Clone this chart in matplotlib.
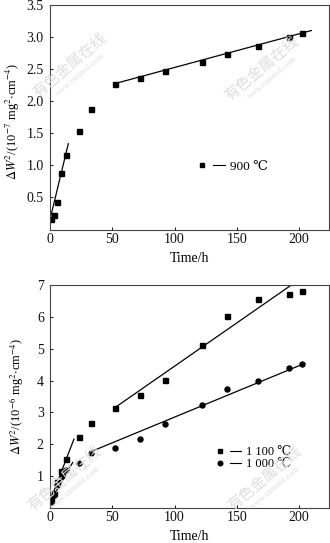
import numpy as np
import matplotlib
matplotlib.use("Agg")
import matplotlib.pyplot as plt
from matplotlib.lines import Line2D
from matplotlib.legend_handler import HandlerTuple

plt.rcParams['font.family'] = ['Liberation Serif', 'DejaVu Serif']
plt.rcParams['mathtext.fontset'] = 'stix'
plt.rcParams['font.size'] = 7.5

# 900 C oxidation data (upper panel)
t_900 = [1, 3, 6, 9, 13, 23, 33, 52, 72, 92, 122, 142, 167, 192, 202]
w_900 = [0.166, 0.233, 0.43, 0.874, 1.16, 1.526, 1.874, 2.267, 2.36, 2.464,
         2.613, 2.728, 2.857, 2.992, 3.059]
# fitted lines (end points)
fit900_early_t = [0, 14.7]
fit900_early_w = [0.155, 1.335]
fit900_late_t = [51.6, 209.8]
fit900_late_w = [2.267, 3.095]

# 1100 C and 1000 C data (lower panel)
t_1100 = [1, 3, 6, 9, 13, 23, 33, 52, 72, 92, 122, 142, 167, 192, 202]
w_1100 = [0.24, 0.47, 0.81, 1.16, 1.55, 2.22, 2.66, 3.15, 3.54, 4.02,
          5.13, 6.03, 6.55, 6.72, 6.80]
t_1000 = [1, 3, 6, 10, 13, 23, 33, 52, 72, 92, 122, 142, 167, 192, 202]
w_1000 = [0.2, 0.42, 0.72, 1.0, 1.2, 1.41, 1.74, 1.88, 2.16, 2.64,
          3.24, 3.72, 3.99, 4.41, 4.52]
fit1100_early_t = [0, 19.2]
fit1100_early_w = [0.21, 2.16]
fit1100_late_t = [52.1, 193.8]
fit1100_late_w = [3.15, 7.0]
fit1000_early_t = [0, 18.2]
fit1000_early_w = [0.18, 1.43]
fit1000_late_t = [32.9, 204.5]
fit1000_late_w = [1.77, 4.54]

x_ticks = [0, 50, 100, 150, 200]
top_yticks = [0.5, 1.0, 1.5, 2.0, 2.5, 3.0, 3.5]
bot_yticks = [1, 2, 3, 4, 5, 6, 7]


def style_axis(ax):
    for s in ax.spines.values():
        s.set_linewidth(0.8)
        s.set_color('#444444')
    ax.tick_params(direction='in', length=2.5, width=0.7, labelsize=10,
                   colors='#111111')
    ax.tick_params(axis='x', pad=2.5)
    ax.tick_params(axis='y', pad=4.5)


def legend_handle(marker):
    m = Line2D([], [], ls='none', marker=marker, color='black', ms=3.3)
    ln = Line2D([], [], color='black', lw=0.8)
    return (m, ln)


fig = plt.figure(figsize=(3.3, 5.43), dpi=100)
W, H = 330.0, 543.0

# ---- upper panel
ax1 = fig.add_axes([50 / W, 1 - 229.5 / H, 279 / W, 225 / H])
ax1.plot(t_900, w_900, ls='none', marker='s', ms=3.6, color='black')
ax1.plot(fit900_early_t, fit900_early_w, color='black', lw=0.9)
ax1.plot(fit900_late_t, fit900_late_w, color='black', lw=0.9)
ax1.set_xlim(0, 224)
ax1.set_ylim(0, 3.5)
ax1.set_xticks(x_ticks)
ax1.set_yticks(top_yticks)
ax1.set_yticklabels(['%.1f' % v for v in top_yticks])
style_axis(ax1)
ax1.set_xlabel('Time/h', fontsize=10)
ax1.xaxis.set_label_coords(0.5, -0.1)
ax1.set_ylabel(r'$\Delta W^2$/(10$^{-7}$ mg$^2$$\cdot$cm$^{-4}$)', fontsize=9)
ax1.yaxis.set_label_coords(-0.102, 0.48)
ax1.legend([legend_handle('s')], ['900 \u2103'], frameon=False,
           handler_map={tuple: HandlerTuple(ndivide=None, pad=0.3)},
           handlelength=2.2, handletextpad=0.4, fontsize=9.5,
           loc='center left', bbox_to_anchor=(0.5, 0.28), borderpad=0)

# ---- lower panel
ax2 = fig.add_axes([50 / W, 1 - 508 / H, 279 / W, 223 / H])
ax2.plot(t_1100, w_1100, ls='none', marker='s', ms=3.6, color='black')
ax2.plot(t_1000, w_1000, ls='none', marker='o', ms=3.6, color='black')
ax2.plot(fit1100_early_t, fit1100_early_w, color='black', lw=0.9)
ax2.plot(fit1100_late_t, fit1100_late_w, color='black', lw=0.9)
ax2.plot(fit1000_early_t, fit1000_early_w, color='black', lw=0.9)
ax2.plot(fit1000_late_t, fit1000_late_w, color='black', lw=0.9)
ax2.set_xlim(0, 224)
ax2.set_ylim(0, 7)
ax2.set_xticks(x_ticks)
ax2.set_yticks(bot_yticks)
style_axis(ax2)
ax2.set_xlabel('Time/h', fontsize=10)
ax2.xaxis.set_label_coords(0.5, -0.1)
ax2.set_ylabel(r'$\Delta W^2$/(10$^{-6}$ mg$^2$$\cdot$cm$^{-4}$)', fontsize=9)
ax2.yaxis.set_label_coords(-0.086, 0.5)
ax2.legend([legend_handle('s'), legend_handle('o')],
           ['1 100 \u2103', '1 000 \u2103'], frameon=False,
           handler_map={tuple: HandlerTuple(ndivide=None, pad=0.3)},
           handlelength=2.2, handletextpad=0.4, fontsize=9,
           labelspacing=0.0, loc='center left',
           bbox_to_anchor=(0.565, 0.222), borderpad=0)

# faint site watermarks
for (x, y) in [(70, 65), (262, 68), (65, 478), (265, 478)]:
    fig.text(x / W, 1 - y / H, '有色金属在线', family='Noto Sans CJK SC',
             fontsize=11, color='#dedede', rotation=40, ha='center',
             va='center')
    fig.text((x + 10) / W, 1 - (y + 10) / H, 'www.cnnmol.com', fontsize=6,
             color='#dedede', rotation=40, ha='center', va='center')

fig.savefig('out.png', dpi=100)
